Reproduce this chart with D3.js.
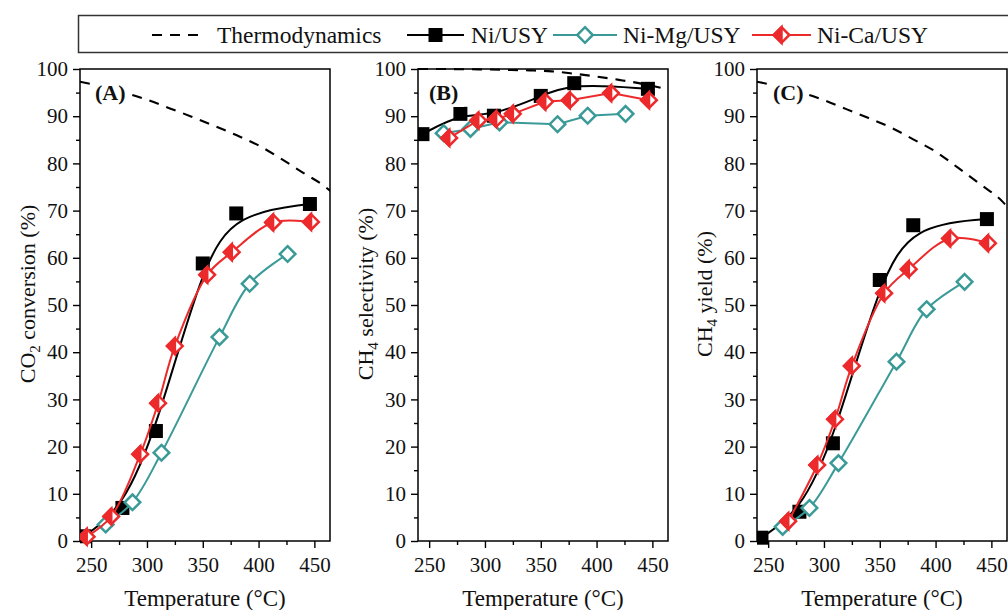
<!DOCTYPE html>
<html>
<head>
<meta charset="utf-8">
<script src="https://cdn.jsdelivr.net/npm/d3@7"></script>
<style>
  html, body { margin: 0; padding: 0; background: #fff; overflow: hidden; }
  svg { display: block; font-family: "Liberation Serif", "Times New Roman", serif; }
</style>
</head>
<body>
<svg id="chart" width="1008" height="610"></svg>
<script>
// ---- Axes ----
const tempDomain = [240, 464];
const tempTicks = [250, 300, 350, 400, 450];
const tempMinorTicks = [275, 325, 375, 425];
const pctTicks = [0, 10, 20, 30, 40, 50, 60, 70, 80, 90, 100];
const pctMinorTicks = [5, 15, 25, 35, 45, 55, 65, 75, 85, 95];

// ---- Thermodynamic equilibrium ----
const thermoT = [240, 260, 280, 300, 320, 340, 360, 380, 400, 420, 440, 460, 466];
const thermoConversion = [97.3, 96.3, 95.0, 93.5, 91.7, 89.9, 88.0, 86.0, 83.8, 81.0, 78.0, 75.0, 73.8];
const thermoSelectivity = [100, 100, 99.95, 99.9, 99.8, 99.7, 99.5, 99.0, 98.4, 97.7, 96.9, 95.8, 95.2];
const thermoYield = [97.3, 96.3, 95.0, 93.4, 91.5, 89.6, 87.6, 85.1, 82.5, 79.1, 75.6, 71.9, 70.3];

// ---- Ni/USY ----
const niT = [244, 278, 308, 350, 380, 446];
const niConversion = [1.0, 7.0, 23.3, 58.8, 69.4, 71.4];
const niSelectivity = [86.2, 90.5, 90.1, 94.3, 97.0, 95.8];
const niYield = [0.7, 6.2, 20.7, 55.3, 66.9, 68.2];

// ---- Ni-Mg/USY ----
const mgT = [263, 287, 313, 365, 392, 426];
const mgConversion = [3.5, 8.2, 18.7, 43.2, 54.5, 60.8];
const mgSelectivity = [86.4, 87.3, 88.7, 88.3, 90.1, 90.5];
const mgYield = [3.0, 7.0, 16.5, 38.0, 49.1, 54.9];

// ---- Ni-Ca/USY ----
const caT = [246, 268, 294, 310, 325, 354, 376, 413, 447];
const caConversion = [0.9, 5.2, 18.4, 29.2, 41.3, 56.4, 61.2, 67.5, 67.6];
const caTSel = [268, 294, 310, 325, 354, 376, 413, 447];
const caSelectivity = [85.4, 89.1, 89.4, 90.5, 93.1, 93.4, 94.9, 93.4];
const caYield = [4.2, 16.1, 25.8, 37.1, 52.5, 57.6, 64.1, 63.1];

// ---- Legend / titles ----
const legendLabels = ["Thermodynamics", "Ni/USY", "Ni-Mg/USY", "Ni-Ca/USY"];
const xTitle = "Temperature (\u00B0C)";

const COLORS = { ni: "#000000", mg: "#3a9a97", ca: "#ec2a2c" };

const zip = (xs, ys) => xs.map((x, i) => [x, ys[i]]);

const panels = [
  { tag: "(A)", left: 80, tagDx: 15,
    yTitle: ["CO", "2", " conversion (%)"],
    thermo: zip(thermoT, thermoConversion),
    series: [
      { key: "ni", pts: zip(niT, niConversion), curve: d3.curveBasis },
      { key: "mg", pts: zip(mgT, mgConversion), curve: d3.curveCatmullRom.alpha(0.5) },
      { key: "ca", pts: zip(caT, caConversion), curve: d3.curveCatmullRom.alpha(0.5) }
    ] },
  { tag: "(B)", left: 418, tagDx: 11,
    yTitle: ["CH", "4", " selectivity (%)"],
    thermo: zip(thermoT, thermoSelectivity),
    series: [
      { key: "ni", pts: zip(niT, niSelectivity), curve: d3.curveBasis },
      { key: "mg", pts: zip(mgT, mgSelectivity), curve: d3.curveLinear },
      { key: "ca", pts: zip(caTSel, caSelectivity), curve: d3.curveLinear }
    ] },
  { tag: "(C)", left: 757, tagDx: 16,
    yTitle: ["CH", "4", " yield (%)"],
    thermo: zip(thermoT, thermoYield),
    series: [
      { key: "ni", pts: zip(niT, niYield), curve: d3.curveBasis },
      { key: "mg", pts: zip(mgT, mgYield), curve: d3.curveCatmullRom.alpha(0.5) },
      { key: "ca", pts: zip(caTSel, caYield), curve: d3.curveCatmullRom.alpha(0.5) }
    ] }
];

const svg = d3.select("#chart");
const PW = 250, TOP = 69, BOTTOM = 541;

// ---- marker drawing ----
function drawMarker(g, key, cx, cy) {
  if (key === "ni") {
    g.append("rect").attr("x", cx - 7).attr("y", cy - 7)
      .attr("width", 14).attr("height", 14).attr("fill", COLORS.ni);
  } else {
    const r = 7.8;
    const full = `M${cx},${cy - r}L${cx + r},${cy}L${cx},${cy + r}L${cx - r},${cy}Z`;
    g.append("path").attr("d", full).attr("fill", "#fff")
      .attr("stroke", COLORS[key]).attr("stroke-width", 2.5).attr("stroke-linejoin", "miter");
    if (key === "ca") {
      const half = `M${cx},${cy - r}L${cx},${cy + r}L${cx - r},${cy}Z`;
      g.append("path").attr("d", half).attr("fill", COLORS.ca)
        .attr("stroke", COLORS.ca).attr("stroke-width", 2.5).attr("stroke-linejoin", "miter");
    }
  }
}

panels.forEach((p, i) => {
  const x = d3.scaleLinear().domain(tempDomain).range([p.left, p.left + PW]);
  const y = d3.scaleLinear().domain([0, 100]).range([BOTTOM, TOP]);
  const g = svg.append("g");

  const clipId = "clip" + i;
  svg.append("clipPath").attr("id", clipId)
    .append("rect").attr("x", p.left).attr("y", TOP - 10).attr("width", PW).attr("height", BOTTOM - TOP + 20);

  // axes: major ticks with labels, minor ticks without
  g.append("g").attr("transform", `translate(${p.left},0)`)
    .call(d3.axisLeft(y).tickValues(pctTicks).tickSize(7).tickPadding(5));
  g.append("g").attr("transform", `translate(${p.left},0)`)
    .call(d3.axisLeft(y).tickValues(pctMinorTicks).tickSize(4).tickFormat(""));
  g.append("g").attr("transform", `translate(0,${BOTTOM})`)
    .call(d3.axisBottom(x).tickValues(tempTicks).tickSize(7).tickPadding(9));
  g.append("g").attr("transform", `translate(0,${BOTTOM})`)
    .call(d3.axisBottom(x).tickValues(tempMinorTicks).tickSize(4).tickFormat(""));
  g.selectAll(".domain").remove();
  g.selectAll(".tick line").attr("stroke", "#000").attr("stroke-width", 1.4);
  g.selectAll(".tick text").attr("font-family", "Liberation Serif, serif")
    .attr("font-size", 21).attr("fill", "#111");

  // frame
  g.append("rect").attr("x", p.left).attr("y", TOP).attr("width", PW).attr("height", BOTTOM - TOP)
    .attr("fill", "none").attr("stroke", "#000").attr("stroke-width", 1.5);

  const plot = g.append("g").attr("clip-path", `url(#${clipId})`);

  // thermodynamic limit
  plot.append("path")
    .attr("d", d3.line().x(d => x(d[0])).y(d => y(d[1])).curve(d3.curveMonotoneX)(p.thermo))
    .attr("fill", "none").attr("stroke", "#000").attr("stroke-width", 2.1)
    .attr("stroke-dasharray", "10,8");

  // panel tag on a white patch
  const tag = g.append("g");
  tag.append("rect").attr("x", p.left + p.tagDx - 3).attr("y", TOP + 12)
    .attr("width", 38).attr("height", 26).attr("fill", "#fff");
  tag.append("text").attr("x", p.left + p.tagDx).attr("y", TOP + 31)
    .attr("font-size", 22).attr("font-weight", "bold").attr("fill", "#111").text(p.tag);

  // series: line then markers
  p.series.forEach(s => {
    plot.append("path")
      .attr("d", d3.line().x(d => x(d[0])).y(d => y(d[1])).curve(s.curve)(s.pts))
      .attr("fill", "none").attr("stroke", COLORS[s.key]).attr("stroke-width", 2);
    const mg = plot.append("g");
    s.pts.forEach(d => drawMarker(mg, s.key, x(d[0]), y(d[1])));
  });

  // axis titles
  g.append("text").attr("x", p.left + PW / 2).attr("y", 606)
    .attr("text-anchor", "middle").attr("font-size", 23).attr("fill", "#111").text(xTitle);
  const yt = g.append("text")
    .attr("transform", `translate(${p.left - 45},${294}) rotate(-90)`)
    .attr("text-anchor", "middle").attr("font-size", 22).attr("fill", "#111");
  yt.append("tspan").text(p.yTitle[0]);
  yt.append("tspan").attr("dy", "0.32em").attr("font-size", 15).text(p.yTitle[1]);
  yt.append("tspan").attr("dy", "-0.22em").text(p.yTitle[2]);
});

// ---- legend ----
const lg = svg.append("g");
lg.append("rect").attr("x", 78.5).attr("y", 15.5).attr("width", 950).attr("height", 37)
  .attr("fill", "#fff").attr("stroke", "#333").attr("stroke-width", 1.5);
const LY = 35;
const legendItems = [
  { key: "thermo", x0: 152, x1: 205, tx: 217 },
  { key: "ni", x0: 407, x1: 464, tx: 471 },
  { key: "mg", x0: 553, x1: 617, tx: 623 },
  { key: "ca", x0: 752, x1: 811, tx: 817 }
];
legendItems.forEach((it, i) => {
  const isThermo = it.key === "thermo";
  lg.append("line").attr("x1", it.x0).attr("x2", it.x1).attr("y1", LY).attr("y2", LY)
    .attr("stroke", isThermo ? "#000" : COLORS[it.key])
    .attr("stroke-width", isThermo ? 2.1 : 2)
    .attr("stroke-dasharray", isThermo ? "10,8" : null);
  if (!isThermo) drawMarker(lg, it.key, (it.x0 + it.x1) / 2, LY);
  lg.append("text").attr("x", it.tx).attr("y", LY).attr("dy", "0.34em")
    .attr("font-size", 23.5).attr("fill", "#111").text(legendLabels[i]);
});
</script>
</body>
</html>
